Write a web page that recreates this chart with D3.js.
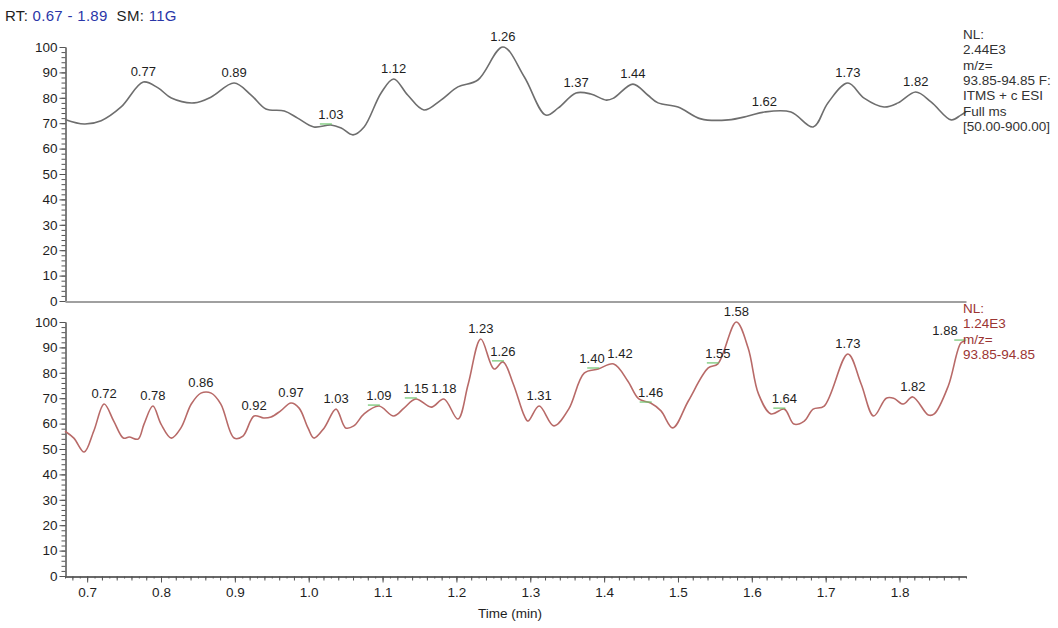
<!DOCTYPE html>
<html>
<head>
<meta charset="utf-8">
<script src="https://cdn.jsdelivr.net/npm/d3@7"></script>
<style>
body { margin: 0; background: #fff; }
svg text { font-family: "Liberation Sans", Arial, sans-serif; }
</style>
</head>
<body>
<svg id="chart" width="1058" height="628"></svg>
<script>
// retention time (min) / relative abundance (%)
const topTime = [0.670, 0.696, 0.719, 0.746, 0.776, 0.796, 0.814, 0.845, 0.868, 0.899,
    0.922, 0.942, 0.967, 0.985, 1.007, 1.030, 1.044, 1.060, 1.075, 1.098,
    1.115, 1.134, 1.156, 1.179, 1.202, 1.229, 1.263, 1.292, 1.321, 1.338,
    1.362, 1.382, 1.403, 1.413, 1.439, 1.459, 1.473, 1.500, 1.531, 1.568,
    1.595, 1.617, 1.653, 1.683, 1.703, 1.730, 1.752, 1.779, 1.798, 1.822,
    1.843, 1.870, 1.883, 1.890];
const topValue = [71.5, 69.7, 71.0, 76.4, 86.2, 83.9, 79.9, 78.0, 80.3, 85.8,
    81.1, 75.6, 74.8, 72.0, 68.5, 69.3, 68.1, 65.4, 68.5, 81.9,
    87.4, 81.1, 75.2, 79.1, 84.3, 87.0, 100, 88.2, 73.2, 76.0,
    81.9, 81.5, 79.1, 79.9, 85.4, 81.1, 78.0, 76.4, 71.7, 71.3,
    72.8, 74.4, 74.4, 68.5, 78.0, 85.8, 79.9, 76.4, 78.0, 82.3,
    78.3, 71.3, 73.2, 74.5];

const bottomTime = [0.670, 0.682, 0.696, 0.709, 0.723, 0.736, 0.749, 0.757, 0.769, 0.777,
    0.789, 0.800, 0.814, 0.827, 0.841, 0.854, 0.868, 0.881, 0.899, 0.911,
    0.926, 0.939, 0.949, 0.962, 0.976, 0.987, 0.999, 1.007, 1.021, 1.037,
    1.050, 1.061, 1.075, 1.095, 1.115, 1.129, 1.145, 1.166, 1.183, 1.202,
    1.216, 1.233, 1.251, 1.263, 1.277, 1.292, 1.297, 1.312, 1.332, 1.352,
    1.373, 1.392, 1.413, 1.432, 1.447, 1.463, 1.477, 1.493, 1.514, 1.541,
    1.554, 1.579, 1.595, 1.609, 1.626, 1.644, 1.657, 1.671, 1.683, 1.698,
    1.730, 1.748, 1.765, 1.782, 1.792, 1.805, 1.818, 1.839, 1.847, 1.866,
    1.883, 1.889];
const bottomValue = [57.0, 54.3, 48.8, 57.1, 67.7, 61.0, 54.3, 54.7, 53.9, 59.8,
    66.9, 59.8, 54.3, 58.3, 67.7, 72.0, 72.0, 67.7, 54.3, 55.1,
    63.0, 62.2, 62.6, 65.0, 68.1, 66.1, 58.3, 54.3, 58.3, 65.7,
    58.3, 59.1, 63.8, 66.9, 63.0, 66.1, 69.7, 66.5, 69.7, 61.8,
    75.6, 93.3, 81.5, 84.3, 75.6, 63.0, 61.0, 66.9, 59.1, 65.7,
    79.9, 81.5, 83.5, 76.8, 69.7, 68.1, 65.0, 58.3, 68.9, 81.9,
    83.5, 100, 89.8, 71.7, 63.8, 65.7, 59.8, 61.0, 65.7, 66.9,
    87.4, 75.6, 63.0, 70.0, 70.0, 67.7, 70.5, 63.4, 63.8, 74.8,
    91.7, 92.5];

const topPeaks = [0.77, 0.89, 1.03, 1.12, 1.26, 1.37, 1.44, 1.62, 1.73, 1.82];
const bottomPeaks = [0.72, 0.78, 0.86, 0.92, 0.97, 1.03, 1.09, 1.15, 1.18, 1.23, 1.26,
    1.31, 1.40, 1.42, 1.46, 1.55, 1.58, 1.64, 1.73, 1.82, 1.88];
const topMarked = [1.03];
const bottomMarked = [1.09, 1.15, 1.26, 1.40, 1.46, 1.55, 1.64, 1.88];

const xTicks = [0.7, 0.8, 0.9, 1.0, 1.1, 1.2, 1.3, 1.4, 1.5, 1.6, 1.7, 1.8];
const yTicks = [0, 10, 20, 30, 40, 50, 60, 70, 80, 90, 100];
const topInfo = ['NL:', '2.44E3', 'm/z=', '93.85-94.85 F:', 'ITMS + c ESI', 'Full ms', '[50.00-900.00]'];
const bottomInfo = ['NL:', '1.24E3', 'm/z=', '93.85-94.85'];

const svg = d3.select('#chart');
const x = d3.scaleLinear().domain([0.67, 1.89]).range([65, 966]);
const yTop = d3.scaleLinear().domain([0, 100]).range([301, 47]);
const yBot = d3.scaleLinear().domain([0, 100]).range([576, 322]);
const ink = '#1e1e1e';

// header
const head = svg.append('text').attr('x', 5).attr('y', 21)
    .style('font-size', '15px').style('letter-spacing', '0.3px').attr('fill', ink);
head.append('tspan').text('RT: ');
head.append('tspan').attr('fill', '#2a36a8').text('0.67 - 1.89');
head.append('tspan').text('\u00a0\u00a0SM: ');
head.append('tspan').attr('fill', '#2a36a8').text('11G');

function yAxis(y) {
    const g = svg.append('g').attr('transform', 'translate(65.5,0)');
    g.append('g').call(d3.axisLeft(y).tickValues(d3.range(0, 101, 2))
        .tickSize(4).tickSizeOuter(0).tickFormat(''));
    g.append('g').call(d3.axisLeft(y).tickValues(yTicks)
        .tickSize(6).tickSizeOuter(0).tickPadding(2));
    g.selectAll('path, line').attr('stroke', '#555');
    g.selectAll('text').style('font-size', '13.5px').attr('fill', ink);
}
yAxis(yTop);
yAxis(yBot);

// top panel baseline
svg.append('g').attr('transform', `translate(0,${yTop(0) + 0.5})`)
    .call(d3.axisBottom(x).tickValues([]).tickSizeOuter(0))
    .select('path').attr('stroke', '#a0a0a0').attr('stroke-width', 2);

// bottom time axis
const xg = svg.append('g').attr('transform', `translate(0,${yBot(0) + 0.5})`);
xg.append('g').call(d3.axisBottom(x).tickValues(d3.range(67, 190).map(i => i / 100))
    .tickSize(2).tickSizeOuter(0).tickFormat(''));
xg.append('g').call(d3.axisBottom(x).tickValues(d3.range(68, 190, 2).map(i => i / 100))
    .tickSize(4).tickSizeOuter(0).tickFormat(''));
xg.append('g').call(d3.axisBottom(x).tickValues(xTicks)
    .tickSize(6).tickSizeOuter(0).tickPadding(5).tickFormat(d3.format('.1f')));
xg.selectAll('path, line').attr('stroke', '#555');
xg.selectAll('text').style('font-size', '13.5px').attr('fill', ink);

svg.append('text').attr('x', 510).attr('y', 618).attr('text-anchor', 'middle')
    .style('font-size', '13.5px').attr('fill', ink).text('Time (min)');

function trace(times, values, y, color) {
    const pts = d3.zip(times, values);
    svg.append('path').datum(pts)
        .attr('fill', 'none').attr('stroke', color).attr('stroke-width', 1.6)
        .attr('d', d3.line().x(d => x(d[0])).y(d => y(d[1]))
            .curve(d3.curveCatmullRom.alpha(0.5)));
    return pts;
}

function valueAt(pts, t) {
    const i = Math.max(1, Math.min(pts.length - 1, d3.bisector(d => d[0]).left(pts, t)));
    const a = pts[i - 1], b = pts[i];
    return a[1] + (b[1] - a[1]) * (t - a[0]) / (b[0] - a[0]);
}

function labels(pts, peaks, marked, y) {
    const items = peaks.map(p => {
        const near = pts.filter(d => Math.abs(d[0] - p) <= 0.0095);
        const top = d3.greatest(near, d => d[1]) || [p, valueAt(pts, p)];
        return {t: p, px: x(top[0]), py: y(top[1]), cx: x(top[0])};
    });
    const w = 26;
    // push apart labels that collide
    for (let k = 0; k < 4; ++k) {
        for (let i = 1; i < items.length; ++i) {
            const a = items[i - 1], b = items[i];
            if (Math.abs(a.py - b.py) < 12 && b.cx - a.cx < w + 2) {
                const s = (w + 2 - (b.cx - a.cx)) / 2;
                a.cx -= s; b.cx += s;
            }
        }
    }
    items.forEach(d => { d.cx = Math.min(d.cx, 958 - w / 2); });
    const g = svg.append('g');
    g.selectAll('line').data(items.filter(d => marked.includes(d.t))).join('line')
        .attr('x1', d => d.px - 11).attr('x2', d => d.px + 1)
        .attr('y1', d => d.py - 1).attr('y2', d => d.py - 1)
        .attr('stroke', '#6cc46c').attr('stroke-width', 1.2);
    g.selectAll('text').data(items).join('text')
        .attr('x', d => d.cx).attr('y', d => d.py - 6)
        .attr('text-anchor', 'middle').style('font-size', '13px').attr('fill', ink)
        .text(d => d.t.toFixed(2));
}

labels(trace(topTime, topValue, yTop, '#6e6e6e'), topPeaks, topMarked, yTop);
labels(trace(bottomTime, bottomValue, yBot, '#b86a68'), bottomPeaks, bottomMarked, yBot);

function info(lines, y0, color) {
    svg.append('g').selectAll('text').data(lines).join('text')
        .attr('x', 963).attr('y', (d, i) => y0 + i * 15.3)
        .style('font-size', '13.5px').attr('fill', color).text(d => d);
}
info(topInfo, 39, '#333');
info(bottomInfo, 313, '#9b3533');
</script>
</body>
</html>
